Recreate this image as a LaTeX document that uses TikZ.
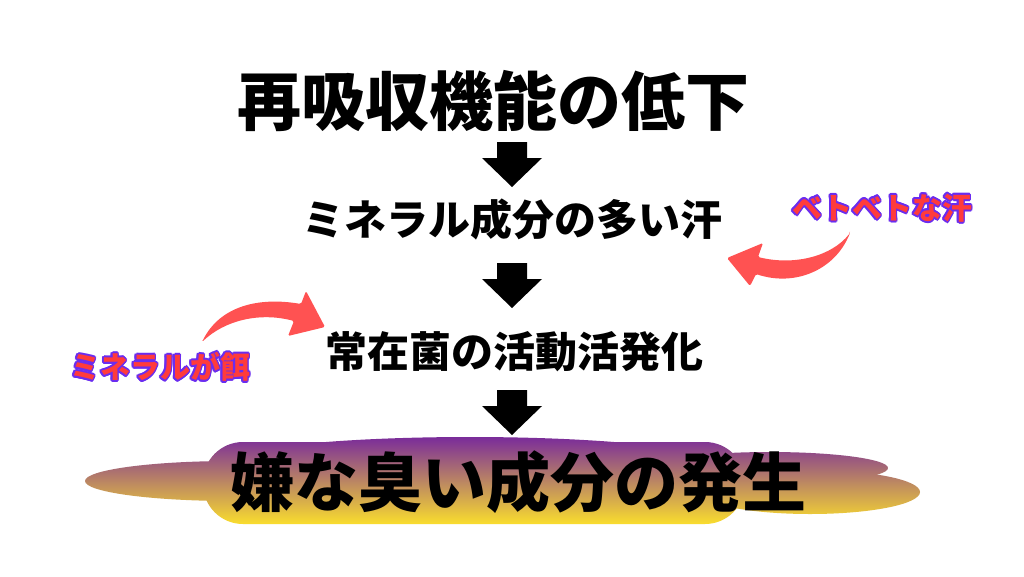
\documentclass[tikz,border=0pt]{standalone}
\usepackage{fontspec}
\usetikzlibrary{calc}
\newfontfamily\jp{Noto Sans CJK JP}
\definecolor{redarrow}{HTML}{FF5252}
\definecolor{lblred}{HTML}{FF3B3B}
\definecolor{lblpurple}{HTML}{6A2CF0}
\definecolor{cloudtop}{HTML}{7A2C9A}
\definecolor{cloudbot}{HTML}{FBDF2C}
\tikzset{
  big/.style={font=\jp\bfseries\fontsize{64}{70}\selectfont, inner sep=0pt},
  mid/.style={font=\jp\bfseries\fontsize{42}{46}\selectfont, inner sep=0pt},
  lbl/.style={font=\jp\bfseries\fontsize{30}{34}\selectfont, inner sep=0pt},
  blockarrow/.style={fill=black},
  curvearrow/.style={fill=redarrow, rounded corners=1.5pt},
  cloudshade/.style={top color=cloudtop, bottom color=cloudbot},
}
\begin{document}
\begin{tikzpicture}[x=1pt,y=-1pt]
\useasboundingbox (0,0) rectangle (1024,576);
\fill[white] (0,0) rectangle (1024,576);

% cloud: each lobe clipped, one common gradient
\foreach \piece in {1,2,3,4,5}{
  \begin{scope}
    \ifcase\piece\or
      \clip[rounded corners=40pt] (203,442) rectangle (745,524);
    \or
      \clip (470,462) ellipse [x radius=240, y radius=25];
    \or
      \clip (232,481) ellipse [x radius=147, y radius=20];
    \or
      \clip (770,468) ellipse [x radius=118, y radius=16];
    \or
      \clip (810,492) ellipse [x radius=110, y radius=22];
    \fi
    \shade[cloudshade] (80,437) rectangle (925,525);
  \end{scope}
}

% texts
\node[big] (t1) at (493,101) {再吸収機能の低下};
\node[mid] (t2) at (512,219) {ミネラル成分の多い汗};
\node[mid] (t3) at (514,352) {常在菌の活動活発化};
\node[big] (t4) at (518,482) {嫌な臭い成分の発生};

% block arrows
\foreach \yy in {142,263,390}{
  \fill[blockarrow, shift={(512,\yy)}]
    (-15,0) -- (15,0) -- (15,16) -- (30,16) -- (0,45) -- (-30,16) -- (-15,16) -- cycle;
}

% red curved arrows
\fill[curvearrow]
  (850,233) .. controls (835,270) and (795,287) .. (756,274)
  -- (750,286) -- (727,258) -- (763,243) -- (758,257)
  .. controls (795,266) and (832,256) .. (850,233) -- cycle;
\fill[curvearrow]
  (202,342) .. controls (220,305) and (260,297) .. (301,304)
  -- (306,291) -- (325,327) -- (288,336) -- (294,321)
  .. controls (260,312) and (225,320) .. (202,342) -- cycle;

% outlined labels
\foreach \a in {0,30,...,330}{
  \node[lbl, text=lblpurple] at ($(882,208)+(\a:1.8)$) {ベトベトな汗};
  \node[lbl, text=lblpurple] at ($(160,367)+(\a:1.8)$) {ミネラルが餌};
}
\node[lbl, text=lblred] (l1) at (882,208) {ベトベトな汗};
\node[lbl, text=lblred] (l2) at (160,367) {ミネラルが餌};
\end{tikzpicture}
\end{document}
